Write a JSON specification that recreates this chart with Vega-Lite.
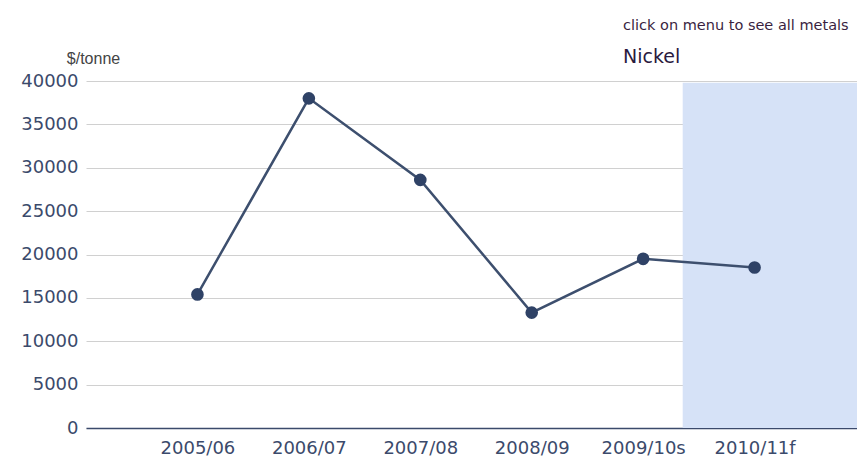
{
  "$schema": "https://vega.github.io/schema/vega-lite/v6.json",
  "width": 780,
  "height": 347,
  "autosize": "none",
  "padding": {"left": 86, "top": 81, "right": 0, "bottom": 29},
  "background": "white",
  "config": {"view": {"stroke": null}, "font": "DejaVu Sans"},
  "title": {
    "text": "click on menu to see all metals",
    "subtitle": "Nickel",
    "anchor": "start",
    "frame": "group",
    "dx": 537,
    "fontSize": 14.5,
    "fontWeight": "normal",
    "color": "#3a1f3f",
    "subtitleFontSize": 19,
    "subtitleColor": "#2a1a40",
    "subtitlePadding": 15,
    "offset": -18
  },
  "datasets": {
    "nickel": [
      {"period": "2005/06", "price": 15400},
      {"period": "2006/07", "price": 38000},
      {"period": "2007/08", "price": 28600},
      {"period": "2008/09", "price": 13300},
      {"period": "2009/10s", "price": 19500},
      {"period": "2010/11f", "price": 18500}
    ],
    "forecast": [{"start": 0.765, "end": 1.0, "low": 0, "high": 39800}]
  },
  "layer": [
    {
      "data": {"name": "forecast"},
      "mark": {"type": "rect", "color": "#d6e2f7"},
      "encoding": {
        "x": {"field": "start", "type": "quantitative", "scale": {"domain": [0, 1]}, "axis": null},
        "x2": {"field": "end"},
        "y": {"field": "low", "type": "quantitative", "scale": {"domain": [0, 40000]},
          "axis": {"title": "$/tonne", "titleAngle": 0, "titleX": 7, "titleY": -23, "titleAlign": "center", "titleBaseline": "middle", "titleFont": "Liberation Sans", "titleFontSize": 16, "titleFontWeight": "normal", "titleColor": "#444444",
            "values": [0, 5000, 10000, 15000, 20000, 25000, 30000, 35000, 40000], "format": "d", "labelFontSize": 18, "labelColor": "#3b4a6b", "ticks": false, "domain": false, "labelPadding": 8, "gridColor": "#d0d0d0", "gridWidth": 1}},
        "y2": {"field": "high"}
      }
    },
    {
      "data": {"name": "nickel"},
      "layer": [
        {
          "mark": {"type": "line", "color": "#3d4f6e", "strokeWidth": 2.5},
          "encoding": {
            "x": {"field": "period", "type": "ordinal", "sort": null, "scale": {"type": "point", "padding": 1},
              "axis": {"title": null, "labelAngle": 0, "labelFontSize": 18, "labelColor": "#3b4a6b", "ticks": false, "domainColor": "#3b4a6b", "domainWidth": 1.5, "labelPadding": 11, "grid": false}},
            "y": {"field": "price", "type": "quantitative"}
          }
        },
        {
          "mark": {"type": "point", "filled": true, "opacity": 1, "size": 160, "color": "#2f4266"},
          "encoding": {
            "x": {"field": "period", "type": "ordinal", "sort": null},
            "y": {"field": "price", "type": "quantitative"}
          }
        }
      ]
    }
  ],
  "resolve": {"scale": {"x": "independent", "y": "shared"}}
}
